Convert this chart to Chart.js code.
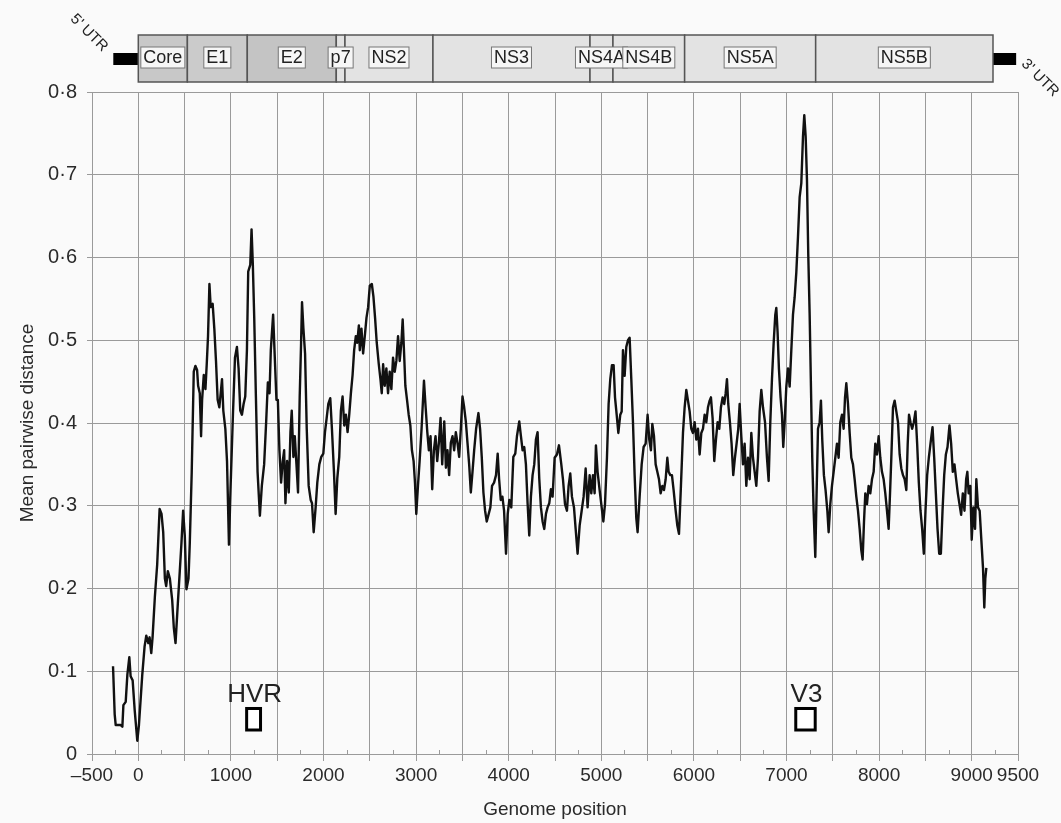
<!DOCTYPE html>
<html>
<head>
<meta charset="utf-8">
<script src="https://cdn.jsdelivr.net/npm/chart.js@4.4.1/dist/chart.umd.min.js"></script>
<style>
  html, body { margin: 0; padding: 0; background: #fafafa; }
  #wrap { width: 1061px; height: 823px; }
</style>
</head>
<body>
<div id="wrap"><canvas id="distChart" width="1061" height="823"></canvas></div>
<script>
// genome position (x) and mean pairwise distance (y)
const positions = [
  -273, -255, -244, -190, -172, -161, -136, -118, -97, -83, -61, -39, -11, 7, 43, 68, 86, 108, 122, 140,
  154, 179, 204, 230, 251, 269, 287, 301, 319, 341, 366, 384, 402, 427, 448, 466, 484, 502, 520, 542,
  556, 577, 599, 617, 635, 646, 664, 678, 689, 707, 725, 739, 753, 768, 782, 803, 821, 839, 857, 875,
  890, 904, 918, 940, 958, 979, 997, 1022, 1044, 1065, 1083, 1101, 1119, 1137, 1155, 1173, 1187, 1209, 1223, 1237,
  1252, 1270, 1288, 1313, 1334, 1359, 1381, 1399, 1417, 1431, 1456, 1474, 1492, 1507, 1524, 1542, 1560, 1575, 1589, 1607,
  1625, 1643, 1657, 1675, 1690, 1708, 1725, 1743, 1758, 1768, 1783, 1801, 1819, 1840, 1862, 1876, 1894, 1915, 1933, 1955,
  1976, 1998, 2016, 2034, 2052, 2073, 2091, 2113, 2131, 2149, 2170, 2188, 2206, 2224, 2242, 2260, 2278, 2296, 2314, 2331,
  2349, 2364, 2382, 2392, 2410, 2428, 2446, 2464, 2482, 2500, 2522, 2539, 2557, 2575, 2597, 2615, 2629, 2644, 2661, 2679,
  2697, 2715, 2733, 2751, 2769, 2787, 2805, 2823, 2841, 2855, 2869, 2884, 2902, 2920, 2938, 2955, 2973, 2988, 3002, 3020,
  3038, 3059, 3085, 3103, 3121, 3138, 3156, 3174, 3192, 3210, 3228, 3246, 3264, 3282, 3304, 3322, 3339, 3357, 3375, 3393,
  3411, 3429, 3447, 3465, 3483, 3501, 3519, 3537, 3555, 3573, 3591, 3609, 3627, 3648, 3673, 3691, 3709, 3727, 3745, 3763,
  3784, 3802, 3820, 3842, 3863, 3881, 3896, 3914, 3932, 3950, 3971, 3989, 4007, 4028, 4050, 4071, 4089, 4114, 4132, 4150,
  4168, 4186, 4204, 4222, 4240, 4258, 4276, 4294, 4312, 4330, 4348, 4366, 4384, 4402, 4420, 4438, 4456, 4474, 4496, 4521,
  4543, 4568, 4586, 4608, 4629, 4647, 4665, 4683, 4705, 4723, 4744, 4766, 4788, 4809, 4831, 4852, 4874, 4892, 4910, 4928,
  4942, 4960, 4982, 5004, 5022, 5040, 5061, 5079, 5097, 5115, 5133, 5148, 5166, 5184, 5205, 5220, 5234, 5252, 5270, 5288,
  5306, 5324, 5342, 5360, 5378, 5392, 5414, 5436, 5457, 5479, 5500, 5518, 5536, 5551, 5569, 5587, 5605, 5623, 5641, 5659,
  5677, 5695, 5713, 5727, 5745, 5763, 5781, 5803, 5821, 5839, 5860, 5882, 5900, 5918, 5936, 5954, 5972, 5990, 6008, 6026,
  6044, 6062, 6080, 6098, 6116, 6134, 6152, 6170, 6184, 6202, 6220, 6238, 6256, 6274, 6292, 6310, 6328, 6343, 6357, 6371,
  6389, 6407, 6425, 6443, 6461, 6479, 6494, 6512, 6530, 6548, 6566, 6584, 6602, 6620, 6638, 6656, 6674, 6692, 6710, 6728,
  6746, 6768, 6789, 6807, 6825, 6843, 6861, 6879, 6890, 6904, 6918, 6936, 6951, 6965, 6980, 6998, 7016, 7034, 7052, 7070,
  7088, 7106, 7124, 7142, 7160, 7178, 7192, 7207, 7221, 7235, 7250, 7264, 7278, 7293, 7311, 7325, 7340, 7358, 7372, 7386,
  7404, 7422, 7441, 7455, 7473, 7491, 7509, 7527, 7545, 7563, 7581, 7599, 7617, 7632, 7646, 7664, 7682, 7700, 7718, 7736,
  7754, 7772, 7790, 7808, 7822, 7837, 7851, 7869, 7887, 7905, 7923, 7941, 7959, 7977, 7995, 8013, 8031, 8049, 8067, 8085,
  8103, 8118, 8132, 8150, 8168, 8186, 8204, 8222, 8240, 8258, 8276, 8294, 8309, 8323, 8339, 8357, 8375, 8393, 8411, 8429,
  8447, 8465, 8483, 8501, 8519, 8537, 8555, 8577, 8595, 8613, 8631, 8649, 8667, 8685, 8703, 8721, 8739, 8760, 8778, 8796,
  8814, 8832, 8850, 8868, 8886, 8904, 8922, 8940, 8953, 8967, 8985, 9000, 9018, 9036, 9050, 9068, 9086, 9104, 9122, 9136,
  9147, 9158
];
const distances = [
  0.106, 0.048, 0.035, 0.035, 0.033, 0.059, 0.063, 0.096, 0.117, 0.094, 0.089, 0.053, 0.016, 0.035, 0.096, 0.130, 0.143, 0.134, 0.141, 0.122,
  0.141, 0.190, 0.229, 0.296, 0.290, 0.268, 0.212, 0.203, 0.221, 0.212, 0.186, 0.152, 0.134, 0.182, 0.221, 0.255, 0.294, 0.264, 0.199, 0.212,
  0.255, 0.341, 0.462, 0.469, 0.464, 0.445, 0.436, 0.384, 0.428, 0.458, 0.441, 0.471, 0.505, 0.568, 0.540, 0.544, 0.514, 0.475, 0.428, 0.419,
  0.436, 0.453, 0.415, 0.393, 0.354, 0.253, 0.324, 0.410, 0.479, 0.492, 0.466, 0.415, 0.410, 0.423, 0.432, 0.488, 0.583, 0.591, 0.634, 0.591,
  0.527, 0.432, 0.341, 0.288, 0.324, 0.350, 0.402, 0.449, 0.436, 0.488, 0.531, 0.479, 0.428, 0.428, 0.367, 0.328, 0.354, 0.367, 0.303, 0.354,
  0.316, 0.389, 0.415, 0.359, 0.384, 0.350, 0.316, 0.432, 0.497, 0.546, 0.514, 0.484, 0.393, 0.324, 0.307, 0.303, 0.268, 0.298, 0.328, 0.350,
  0.359, 0.363, 0.389, 0.406, 0.423, 0.430, 0.393, 0.341, 0.290, 0.333, 0.359, 0.415, 0.432, 0.397, 0.410, 0.389, 0.410, 0.436, 0.458, 0.488,
  0.505, 0.497, 0.518, 0.488, 0.514, 0.484, 0.505, 0.527, 0.540, 0.566, 0.568, 0.553, 0.527, 0.497, 0.471, 0.453, 0.436, 0.471, 0.445, 0.466,
  0.436, 0.462, 0.441, 0.479, 0.462, 0.475, 0.505, 0.475, 0.497, 0.525, 0.488, 0.445, 0.428, 0.410, 0.397, 0.367, 0.354, 0.328, 0.290, 0.324,
  0.354, 0.393, 0.451, 0.419, 0.389, 0.367, 0.384, 0.320, 0.367, 0.384, 0.354, 0.376, 0.406, 0.350, 0.402, 0.346, 0.367, 0.337, 0.376, 0.384,
  0.367, 0.389, 0.376, 0.359, 0.393, 0.432, 0.419, 0.402, 0.376, 0.350, 0.316, 0.341, 0.367, 0.393, 0.412, 0.393, 0.359, 0.316, 0.294, 0.281,
  0.290, 0.298, 0.324, 0.328, 0.337, 0.363, 0.333, 0.307, 0.311, 0.294, 0.242, 0.290, 0.307, 0.298, 0.359, 0.363, 0.384, 0.402, 0.384, 0.367,
  0.371, 0.350, 0.303, 0.264, 0.311, 0.337, 0.350, 0.380, 0.389, 0.333, 0.298, 0.281, 0.272, 0.290, 0.298, 0.303, 0.320, 0.311, 0.358, 0.362,
  0.373, 0.350, 0.332, 0.302, 0.294, 0.324, 0.339, 0.311, 0.298, 0.272, 0.242, 0.276, 0.294, 0.311, 0.345, 0.298, 0.337, 0.315, 0.337, 0.315,
  0.373, 0.341, 0.319, 0.298, 0.281, 0.302, 0.358, 0.423, 0.453, 0.470, 0.470, 0.431, 0.410, 0.388, 0.410, 0.414, 0.488, 0.457, 0.492, 0.500,
  0.503, 0.453, 0.401, 0.337, 0.285, 0.268, 0.311, 0.350, 0.371, 0.375, 0.410, 0.380, 0.367, 0.399, 0.384, 0.350, 0.341, 0.332, 0.315, 0.324,
  0.319, 0.332, 0.358, 0.341, 0.337, 0.337, 0.319, 0.294, 0.276, 0.266, 0.324, 0.388, 0.419, 0.440, 0.427, 0.414, 0.393, 0.388, 0.401, 0.380,
  0.393, 0.362, 0.388, 0.393, 0.410, 0.401, 0.419, 0.427, 0.431, 0.406, 0.354, 0.380, 0.401, 0.393, 0.419, 0.431, 0.423, 0.436, 0.453, 0.423,
  0.401, 0.375, 0.337, 0.358, 0.375, 0.393, 0.423, 0.384, 0.350, 0.375, 0.324, 0.358, 0.332, 0.388, 0.358, 0.341, 0.324, 0.358, 0.414, 0.440,
  0.419, 0.401, 0.358, 0.330, 0.401, 0.453, 0.496, 0.531, 0.539, 0.509, 0.466, 0.431, 0.410, 0.371, 0.401, 0.444, 0.466, 0.444, 0.488, 0.531,
  0.552, 0.582, 0.625, 0.673, 0.690, 0.746, 0.772, 0.746, 0.694, 0.604, 0.531, 0.444, 0.358, 0.294, 0.238, 0.315, 0.393, 0.401, 0.427, 0.380,
  0.337, 0.319, 0.294, 0.268, 0.302, 0.324, 0.341, 0.358, 0.375, 0.358, 0.401, 0.410, 0.393, 0.431, 0.448, 0.423, 0.388, 0.358, 0.350, 0.332,
  0.311, 0.294, 0.272, 0.246, 0.235, 0.281, 0.315, 0.302, 0.324, 0.315, 0.332, 0.341, 0.375, 0.362, 0.384, 0.358, 0.341, 0.332, 0.315, 0.294,
  0.272, 0.315, 0.358, 0.419, 0.427, 0.414, 0.401, 0.362, 0.345, 0.337, 0.332, 0.319, 0.375, 0.410, 0.401, 0.393, 0.401, 0.414, 0.375, 0.328,
  0.294, 0.272, 0.242, 0.294, 0.337, 0.358, 0.375, 0.395, 0.358, 0.315, 0.272, 0.242, 0.242, 0.294, 0.337, 0.362, 0.371, 0.397, 0.375, 0.341,
  0.350, 0.332, 0.315, 0.302, 0.289, 0.315, 0.294, 0.332, 0.341, 0.315, 0.324, 0.259, 0.298, 0.272, 0.332, 0.298, 0.294, 0.259, 0.225, 0.177,
  0.212, 0.225
];

const xLabelValues = [-500, 0, 1000, 2000, 3000, 4000, 5000, 6000, 7000, 8000, 9000, 9500];

const genes = ['Core', 'E1', 'E2', 'p7', 'NS2', 'NS3', 'NS4A', 'NS4B', 'NS5A', 'NS5B'];
const geneStarts = [0, 530, 1177, 2138, 2232, 3182, 4878, 5126, 5900, 7315];
const geneEnds = [530, 1177, 2138, 2232, 3182, 4878, 5126, 5900, 7315, 9230];

const utrNames = ["5' UTR", "3' UTR"];
const utrStarts = [-270, 9230];
const utrEnds = [0, 9480];

const regions = ['HVR', 'V3'];
const regionStarts = [1170, 7100];
const regionEnds = [1320, 7310];

const geneFill = ['#c8c8c8', '#cbcbcb', '#c4c4c4', '#e2e2e2', '#e3e3e3', '#e3e3e3', '#e3e3e3', '#e3e3e3', '#e3e3e3', '#e3e3e3'];
const FONT = "'Liberation Sans', Arial, Helvetica, sans-serif";
const GRID = '#9a9a9a';

const paperPlugin = {
  id: 'paper',
  beforeDraw(chart) {
    const c = chart.ctx;
    c.save();
    c.fillStyle = '#fafafa';
    c.fillRect(0, 0, chart.width, chart.height);
    c.restore();
  },
  afterDraw(chart) {
    const c = chart.ctx;
    const sx = chart.scales.x;
    const sy = chart.scales.y;
    c.save();

    // minor ticks pointing into the plot
    c.strokeStyle = GRID;
    c.lineWidth = 1;
    for (let v = -250; v < 9500; v += 500) {
      const px = Math.round(sx.getPixelForValue(v)) + 0.5;
      c.beginPath();
      c.moveTo(px, sy.bottom);
      c.lineTo(px, sy.bottom - 4);
      c.stroke();
    }

    // genome map
    const barTop = 35, barH = 47;
    utrNames.forEach((name, i) => {
      const x0 = sx.getPixelForValue(utrStarts[i]);
      const x1 = sx.getPixelForValue(utrEnds[i]);
      c.fillStyle = '#000';
      c.fillRect(x0, 53, x1 - x0, 12);
    });
    genes.forEach((g, i) => {
      const x0 = sx.getPixelForValue(geneStarts[i]);
      const x1 = sx.getPixelForValue(geneEnds[i]);
      c.fillStyle = geneFill[i];
      c.fillRect(x0, barTop, x1 - x0, barH);
      c.strokeStyle = '#555';
      c.lineWidth = 1.5;
      c.strokeRect(x0, barTop, x1 - x0, barH);
    });
    c.font = '18px ' + FONT;
    c.textAlign = 'center';
    c.textBaseline = 'middle';
    genes.forEach((g, i) => {
      const xc = (sx.getPixelForValue(geneStarts[i]) + sx.getPixelForValue(geneEnds[i])) / 2;
      const w = c.measureText(g).width + 5;
      c.fillStyle = '#f6f6f6';
      c.fillRect(xc - w / 2, 47, w, 21);
      c.strokeStyle = '#777';
      c.lineWidth = 1;
      c.strokeRect(xc - w / 2, 47, w, 21);
      c.fillStyle = '#222';
      c.fillText(g, xc, 58);
    });

    // rotated UTR labels
    c.font = '15px ' + FONT;
    c.fillStyle = '#222';
    [[89, 33], [1040, 78]].forEach((p, i) => {
      c.save();
      c.translate(p[0], p[1]);
      c.rotate(Math.PI / 4);
      c.fillText(utrNames[i], 0, 0);
      c.restore();
    });

    // variable region markers
    regions.forEach((r, i) => {
      const x0 = sx.getPixelForValue(regionStarts[i]);
      const x1 = sx.getPixelForValue(regionEnds[i]);
      const y0 = sy.getPixelForValue(0.055);
      const y1 = sy.getPixelForValue(0.029);
      c.fillStyle = '#fff';
      c.fillRect(x0, y0, x1 - x0, y1 - y0);
      c.strokeStyle = '#000';
      c.lineWidth = 3;
      c.strokeRect(x0, y0, x1 - x0, y1 - y0);
      c.font = '26px ' + FONT;
      c.fillStyle = '#222';
      c.textBaseline = 'alphabetic';
      c.fillText(r, (x0 + x1) / 2 + 1, y0 - 6);
    });
    c.restore();
  }
};

const ctx = document.getElementById('distChart').getContext('2d');
new Chart(ctx, {
  type: 'line',
  data: {
    datasets: [{
      data: positions.map((x, i) => ({ x: x, y: distances[i] })),
      borderColor: '#111',
      borderWidth: 2.4,
      borderJoinStyle: 'round',
      pointRadius: 0,
      tension: 0,
      fill: false
    }]
  },
  options: {
    responsive: false,
    animation: false,
    devicePixelRatio: 1,
    layout: { padding: { top: 92, right: 43, bottom: 0, left: 0 } },
    plugins: { legend: { display: false }, tooltip: { enabled: false } },
    scales: {
      x: {
        type: 'linear',
        min: -500,
        max: 9500,
        afterFit: s => { s.height = 69; },
        ticks: {
          stepSize: 250,
          autoSkip: false,
          maxRotation: 0,
          padding: 3,
          color: '#2a2a2a',
          font: { family: FONT, size: 19 },
          callback: v => xLabelValues.includes(v) ? (v < 0 ? '\u2013' + Math.abs(v) : String(v)) : ''
        },
        grid: {
          color: c => (c.tick && c.tick.value % 500 === 0) ? GRID : 'rgba(0,0,0,0)',
          tickColor: c => (c.tick && c.tick.value % 500 === 0) ? GRID : 'rgba(0,0,0,0)',
          tickLength: 7
        },
        border: { color: GRID },
        title: {
          display: true,
          text: 'Genome position',
          color: '#2a2a2a',
          font: { family: FONT, size: 19 },
          padding: { top: 0, bottom: 2 }
        }
      },
      y: {
        min: 0,
        max: 0.8,
        afterFit: s => { s.width = 92; },
        ticks: {
          stepSize: 0.1,
          padding: 10,
          color: '#2a2a2a',
          font: { family: FONT, size: 20 },
          callback: v => v === 0 ? '0' : v.toFixed(1).replace('.', '\u00b7')
        },
        grid: { color: GRID, tickColor: GRID, tickLength: 5 },
        border: { color: GRID },
        title: {
          display: true,
          text: 'Mean pairwise distance',
          color: '#2a2a2a',
          font: { family: FONT, size: 19 },
          padding: { top: 16, bottom: 0 }
        }
      }
    }
  },
  plugins: [paperPlugin]
});
</script>
</body>
</html>
